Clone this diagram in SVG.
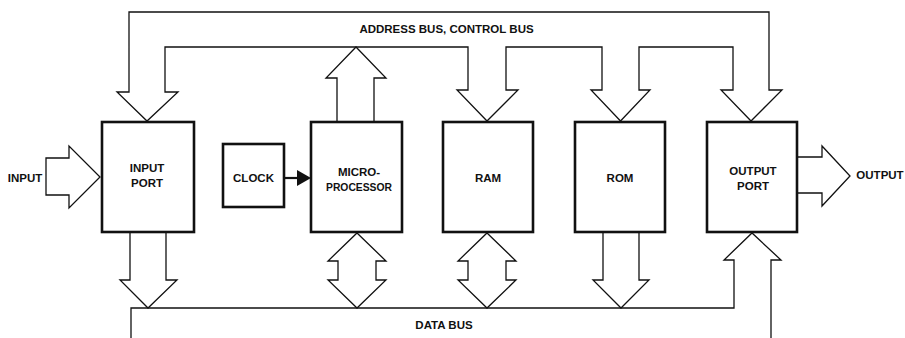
<svg xmlns="http://www.w3.org/2000/svg" width="905" height="338" viewBox="0 0 905 338">
<style>
.box{fill:#fff;stroke:#111;stroke-width:2.6}
.bus{fill:none;stroke:#111;stroke-width:1.3;stroke-linejoin:miter}
.arr{fill:#fff;stroke:#111;stroke-width:1.3;stroke-linejoin:miter}
text{font-family:"Liberation Sans",Arial,sans-serif;font-weight:bold;font-size:11.5px;fill:#111;text-anchor:middle}
</style>
<rect width="905" height="338" fill="#fff"/>
<g id="connectors">
<path id="address-bus" class="arr" d="M129,92 H117 L147,121 L178,92 H165 V47 H468 V90 H457 L487,121 L518,90 H506 V47 H602 V90 H591 L620.5,121 L650,90 H639 V47 H733 V90 H721 L751,121 L782,90 H769 V12 H129 Z"/>
<path id="micro-up" class="arr" d="M337,122 V78 H326 L356,47 L386,78 H374 V122"/>
<path id="data-bus" class="bus" d="M131,338 V308 H734 V260 H724 L752,233 L781,260 H771 V338"/>
<path id="in-down" class="arr" d="M130,233 V280 H120 L148,308 L177,280 H166 V233"/>
<path id="micro-dbl" class="arr" d="M357,233 L386,261 H376 V280 H386 L357,308 L328,280 H338 V261 H328 Z"/>
<path id="ram-dbl" class="arr" d="M487,233 L516,261 H506 V280 H516 L487,308 L458,280 H468 V261 H458 Z"/>
<path id="rom-down" class="arr" d="M603,233 V280 H593 L621,308 L649,280 H639 V233"/>
<path id="input-arrow" class="arr" d="M46,158 H69 V146 L100,177 L69,208 V195 H46 Z"/>
<path id="output-arrow" class="arr" d="M798,157 H822 V146 L850,176 L822,206 V193 H798"/>
<line x1="285" y1="178" x2="299" y2="178" stroke="#111" stroke-width="2.2"/>
<polygon points="297,170 297,186 311,178" fill="#111"/>
</g>
<g id="input-port"><rect class="box" x="102" y="122" width="92" height="110"/><text x="147" y="172">INPUT</text><text x="147" y="187">PORT</text></g>
<g id="clock"><rect class="box" x="223" y="144" width="61" height="63"/><text x="253.5" y="182">CLOCK</text></g>
<g id="microprocessor"><rect class="box" x="311" y="122" width="91" height="110"/><text x="359" y="176">MICRO-</text><text x="359" y="191" textLength="66" lengthAdjust="spacingAndGlyphs">PROCESSOR</text></g>
<g id="ram"><rect class="box" x="443" y="122" width="90" height="110"/><text x="488" y="182">RAM</text></g>
<g id="rom"><rect class="box" x="575" y="122" width="90" height="110"/><text x="620" y="182">ROM</text></g>
<g id="output-port"><rect class="box" x="707" y="122" width="90" height="110"/><text x="753" y="175">OUTPUT</text><text x="753" y="190">PORT</text></g>
<g id="labels">
<text x="446.5" y="33">ADDRESS BUS, CONTROL BUS</text>
<text x="444" y="329">DATA BUS</text>
<text x="25" y="182">INPUT</text>
<text x="880" y="179">OUTPUT</text>
</g>
</svg>
